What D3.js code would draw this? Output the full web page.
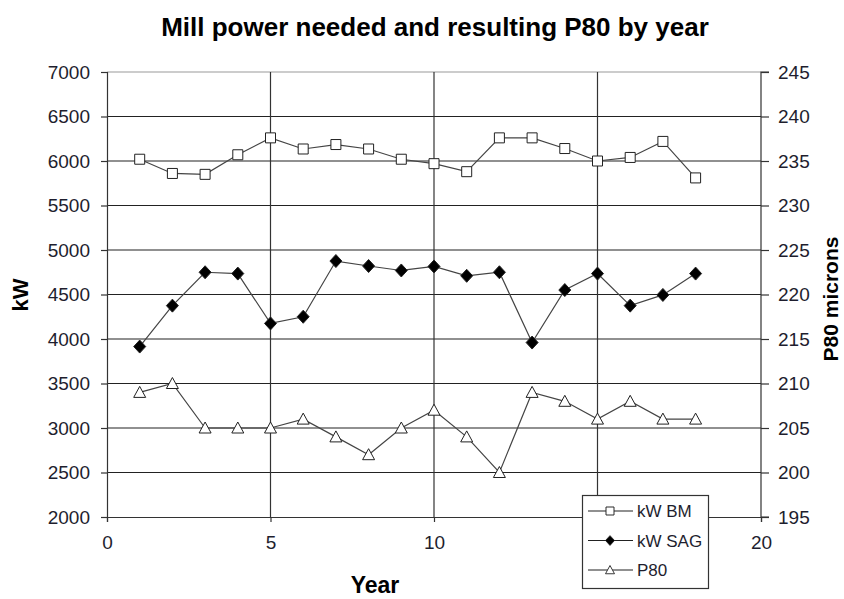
<!DOCTYPE html>
<html><head><meta charset="utf-8">
<script src="https://cdn.jsdelivr.net/npm/d3@7/dist/d3.min.js"></script>
<style>
body{margin:0;background:#fff;}
text{font-family:"Liberation Sans",Arial,sans-serif;}
</style></head>
<body><svg id="c" width="844" height="599"></svg>
<script>
const years = [1,2,3,4,5,6,7,8,9,10,11,12,13,14,15,16,17,18];
const kwBM  = [6020,5860,5850,6070,6260,6135,6185,6135,6020,5970,5880,6260,6260,6140,6000,6040,6220,5810];
const kwSAG = [3915,4375,4750,4735,4175,4250,4876,4820,4770,4815,4710,4750,3960,4550,4735,4375,4495,4735];
const p80   = [209,210,205,205,205,206,204,202,205,207,204,200,209,208,206,208,206,206];
const xTicks = [0,5,10,15,20];
const yLeftTicks = [2000,2500,3000,3500,4000,4500,5000,5500,6000,6500,7000];
const yRightTicks = [195,200,205,210,215,220,225,230,235,240,245];
const legendLabels = ["kW BM","kW SAG","P80"];

const svg = d3.select("#c");
const L=107, R=761, T=72, B=517;
const x = d3.scaleLinear().domain([0,20]).range([L,R]);
const yL = d3.scaleLinear().domain([2000,7000]).range([B,T]);
const yR = d3.scaleLinear().domain([195,245]).range([B,T]);
const textCol="#1e1e2e";

// title
svg.append("text").attr("x",435).attr("y",36).attr("text-anchor","middle")
  .attr("font-size",26).attr("font-weight","bold").attr("fill","#000")
  .text("Mill power needed and resulting P80 by year");

// gridlines
const g = svg.append("g");
g.selectAll(".hg").data(yLeftTicks.filter(d=>d>2000)).enter().append("line")
  .attr("x1",L).attr("x2",R).attr("y1",d=>yL(d)).attr("y2",d=>yL(d))
  .attr("stroke",d=>d===7000?"#999":"#222").attr("stroke-width",1.2);
g.selectAll(".vg").data([5,10,15]).enter().append("line")
  .attr("x1",d=>x(d)).attr("x2",d=>x(d)).attr("y1",T).attr("y2",B)
  .attr("stroke","#333").attr("stroke-width",1.2);

// axes
const axL = svg.append("g").attr("transform",`translate(${L},0)`)
  .call(d3.axisLeft(yL).tickValues(yLeftTicks).tickSize(6).tickPadding(11).tickFormat(d3.format("d")));
const axR = svg.append("g").attr("transform",`translate(${R},0)`)
  .call(d3.axisRight(yR).tickValues(yRightTicks).tickSize(8).tickPadding(9).tickFormat(d3.format("d")));
const axB = svg.append("g").attr("transform",`translate(0,${B})`)
  .call(d3.axisBottom(x).tickValues(xTicks).tickSize(5).tickPadding(14).tickFormat(d3.format("d")));
[axL,axR,axB].forEach(a=>{
  a.select(".domain").attr("stroke","#333").attr("stroke-width",1.2);
  a.selectAll(".tick line").attr("stroke","#333").attr("stroke-width",1.2);
  a.selectAll(".tick text").attr("font-size",19).attr("fill",textCol)
   .attr("font-family","'Liberation Sans',Arial,sans-serif");
});
axR.select(".domain").attr("d",`M8,${T}H0V${B}H8`);

// axis titles
svg.append("text").attr("transform","translate(28,295) rotate(-90)").attr("text-anchor","middle")
  .attr("font-size",22).attr("font-weight","bold").text("kW");
svg.append("text").attr("transform","translate(838,299) rotate(-90)").attr("text-anchor","middle")
  .attr("font-size",21).attr("font-weight","bold").text("P80 microns");
svg.append("text").attr("x",375).attr("y",593).attr("text-anchor","middle")
  .attr("font-size",23).attr("font-weight","bold").text("Year");

// series
const lineCol="#444";
function drawSeries(vals, yScale, sym, fill){
  const pts = years.map((yr,i)=>[x(yr), yScale(vals[i])]);
  svg.append("path").attr("d",d3.line()(pts)).attr("fill","none").attr("stroke",lineCol).attr("stroke-width",1.2);
  svg.selectAll(null).data(pts).enter().append("path")
    .attr("transform",d=>`translate(${d[0]},${d[1]})`)
    .attr("d",sym).attr("fill",fill).attr("stroke","#222").attr("stroke-width",1);
}
const sq = "M-5,-5H5V5H-5Z";
const dia = "M0,-6.5L6,0L0,6.5L-6,0Z";
const tri = "M0,-6L6,5H-6Z";
drawSeries(kwBM, yL, sq, "#fff");
drawSeries(kwSAG, yL, dia, "#000");
drawSeries(p80, yR, tri, "#fff");

// legend
const lg = svg.append("g");
lg.append("rect").attr("x",582.5).attr("y",495.5).attr("width",126).attr("height",93)
  .attr("fill","#fff").attr("stroke","#333").attr("stroke-width",1.2);
const syms=[[sq,"#fff",0.8],[dia,"#000",0.75],[tri,"#fff",0.75]];
legendLabels.forEach((lab,i)=>{
  const yy = 511 + i*29.5;
  lg.append("line").attr("x1",588).attr("x2",633).attr("y1",yy).attr("y2",yy).attr("stroke","#222").attr("stroke-width",1.2);
  lg.append("path").attr("transform",`translate(610,${yy}) scale(${syms[i][2]})`).attr("d",syms[i][0])
    .attr("fill",syms[i][1]).attr("stroke","#222").attr("stroke-width",1.2);
  lg.append("text").attr("x",637).attr("y",yy+6).attr("font-size",17).attr("fill",textCol).text(lab);
});
</script></body></html>
